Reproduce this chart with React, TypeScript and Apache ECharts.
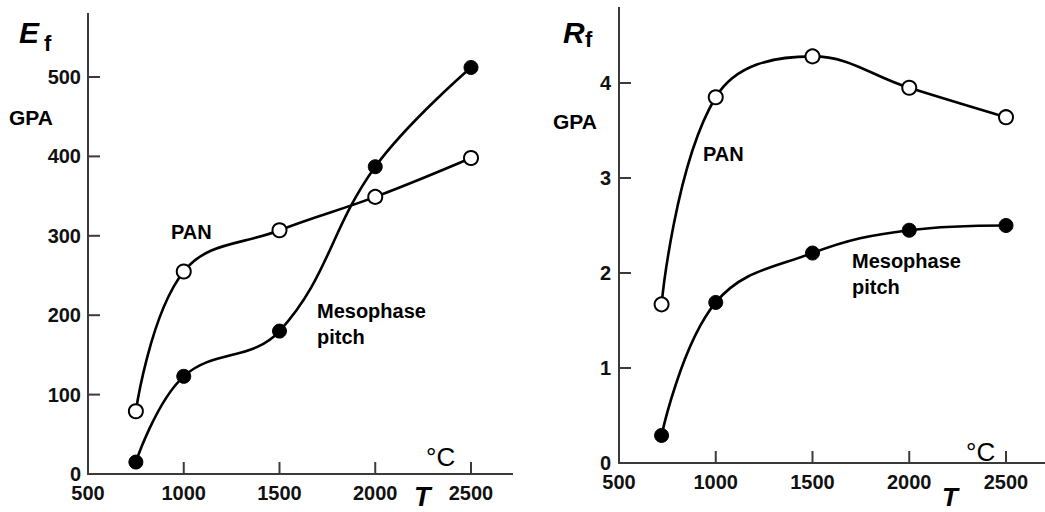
import React, { useEffect, useRef } from "react";
import * as echarts from "echarts";

const tempsLeft = [750, 1000, 1500, 2000, 2500];
const panModulus = [79, 255, 307, 349, 398];
const pitchModulus = [15, 123, 180, 387, 512];

const tempsRight = [720, 1000, 1500, 2000, 2500];
const panStrength = [1.67, 3.85, 4.28, 3.95, 3.64];
const pitchStrength = [0.29, 1.69, 2.21, 2.45, 2.5];

const xTicks = [500, 1000, 1500, 2000, 2500];
const yTicksLeft = [0, 100, 200, 300, 400, 500];
const yTicksRight = [0, 1, 2, 3, 4];

const FONT = '"Liberation Sans", Arial, Helvetica, sans-serif';
const AXIS_COLOR = "#3a3a3a";
const TICK_LEN = 12;

export default function App() {
  const ref = useRef<HTMLDivElement>(null);
  useEffect(() => {
    const chart = echarts.init(ref.current!, null, { renderer: "svg" });
    const axisLine = () => ({ show: true, onZero: false, lineStyle: { color: AXIS_COLOR, width: 2 } });
    const lbl = (margin: number) => ({
      show: true,
      margin,
      color: "#111",
      fontFamily: FONT,
      fontWeight: "bold" as const,
      fontSize: 20,
      formatter: (v: number) => String(v),
    });
    const zip = (xs: number[], ys: number[]) => xs.map((x, i) => [x, ys[i]]);
    const openStyle = { color: "#fff", borderColor: "#000", borderWidth: 2 };
    const filledStyle = { color: "#000", borderColor: "#000", borderWidth: 1 };
    const lineStyle = { color: "#000", width: 2.6 };
    const txt = (text: string, x: number, y: number, font: string) => ({
      type: "text",
      x,
      y,
      z: 10,
      style: { text, font, fill: "#000", align: "left", verticalAlign: "middle" },
    });
    const ext = (x1: number, y1: number, x2: number, y2: number) => ({
      type: "line",
      shape: { x1, y1, x2, y2 },
      style: { stroke: AXIS_COLOR, lineWidth: 2 },
      z: 1,
    });
    const bold20 = `bold 20px ${FONT}`;
    const series = (name: string, xi: number, data: number[][], item: any) => ({
      name, type: "line", xAxisIndex: xi, yAxisIndex: xi, smooth: 0.4, clip: false,
      data, symbol: "circle", symbolSize: 14, lineStyle, itemStyle: item, z: 3,
    });
    // tick marks: thin rects placed through the axes' own scales
    const ticks = (xi: number, xMin: number, yMin: number, xs: number[], ys: number[]) => ({
      type: "custom",
      xAxisIndex: xi,
      yAxisIndex: xi,
      clip: false,
      silent: true,
      z: 5,
      encode: { x: 0, y: 1 },
      data: [
        ...xs.map((v) => [v, yMin, 0]),
        ...ys.map((v) => [xMin, v, 1]),
      ],
      renderItem: (params: any, api: any) => {
        const p = api.coord([api.value(0), api.value(1)]);
        const isY = api.value(2) === 1;
        return {
          type: "rect",
          shape: isY
            ? { x: p[0], y: p[1] - 1, width: TICK_LEN, height: 2 }
            : { x: p[0] - 1, y: p[1] - TICK_LEN, width: 2, height: TICK_LEN },
          style: { fill: AXIS_COLOR },
        };
      },
    });
    chart.setOption({
      animation: false,
      backgroundColor: "#fff",
      grid: [
        { left: 88, top: 77, width: 383, height: 397 },
        { left: 619, top: 83, width: 387, height: 380 },
      ],
      xAxis: [
        { type: "value", gridIndex: 0, min: 500, max: 2500, interval: 500, axisLine: axisLine(), axisTick: { show: false }, axisLabel: lbl(9), splitLine: { show: false } },
        { type: "value", gridIndex: 1, min: 500, max: 2500, interval: 500, axisLine: axisLine(), axisTick: { show: false }, axisLabel: lbl(9), splitLine: { show: false } },
      ],
      yAxis: [
        { type: "value", gridIndex: 0, min: 0, max: 500, interval: 100, axisLine: axisLine(), axisTick: { show: false }, axisLabel: lbl(7), splitLine: { show: false } },
        { type: "value", gridIndex: 1, min: 0, max: 4, interval: 1, axisLine: axisLine(), axisTick: { show: false }, axisLabel: lbl(8), splitLine: { show: false } },
      ],
      series: [
        ticks(0, 500, 0, xTicks.slice(1), yTicksLeft.slice(1)),
        ticks(1, 500, 0, xTicks.slice(1), yTicksRight.slice(1)),
        series("PAN E", 0, zip(tempsLeft, panModulus), openStyle),
        series("Pitch E", 0, zip(tempsLeft, pitchModulus), filledStyle),
        series("PAN R", 1, zip(tempsRight, panStrength), openStyle),
        series("Pitch R", 1, zip(tempsRight, pitchStrength), filledStyle),
      ],
      graphic: [
        ext(88, 78, 88, 13),
        ext(470, 474, 513, 474),
        ext(619, 84, 619, 7),
        ext(1005, 463, 1045, 463),
        txt("E", 19, 32, `italic bold 30px ${FONT}`),
        txt("f", 44, 43, `bold 22px ${FONT}`),
        txt("GPA", 9, 117, `bold 21px ${FONT}`),
        txt("PAN", 171, 232, bold20),
        txt("Mesophase", 317, 311, bold20),
        txt("pitch", 317, 337, bold20),
        txt("°C", 426, 457, `26px ${FONT}`),
        txt("T", 414, 497, `italic bold 27px ${FONT}`),
        txt("R", 563, 32, `italic bold 30px ${FONT}`),
        txt("f", 585, 39, `bold 22px ${FONT}`),
        txt("GPA", 553, 121, `bold 21px ${FONT}`),
        txt("PAN", 703, 154, bold20),
        txt("Mesophase", 852, 261, bold20),
        txt("pitch", 852, 287, bold20),
        txt("°C", 966, 452, `26px ${FONT}`),
        txt("T", 942, 497, `italic bold 26px ${FONT}`),
      ],
    });
    return () => chart.dispose();
  }, []);
  return (
    <div
      ref={ref}
      style={{ position: "fixed", left: 0, top: 0, width: 1045, height: 512, background: "#fff" }}
    />
  );
}
